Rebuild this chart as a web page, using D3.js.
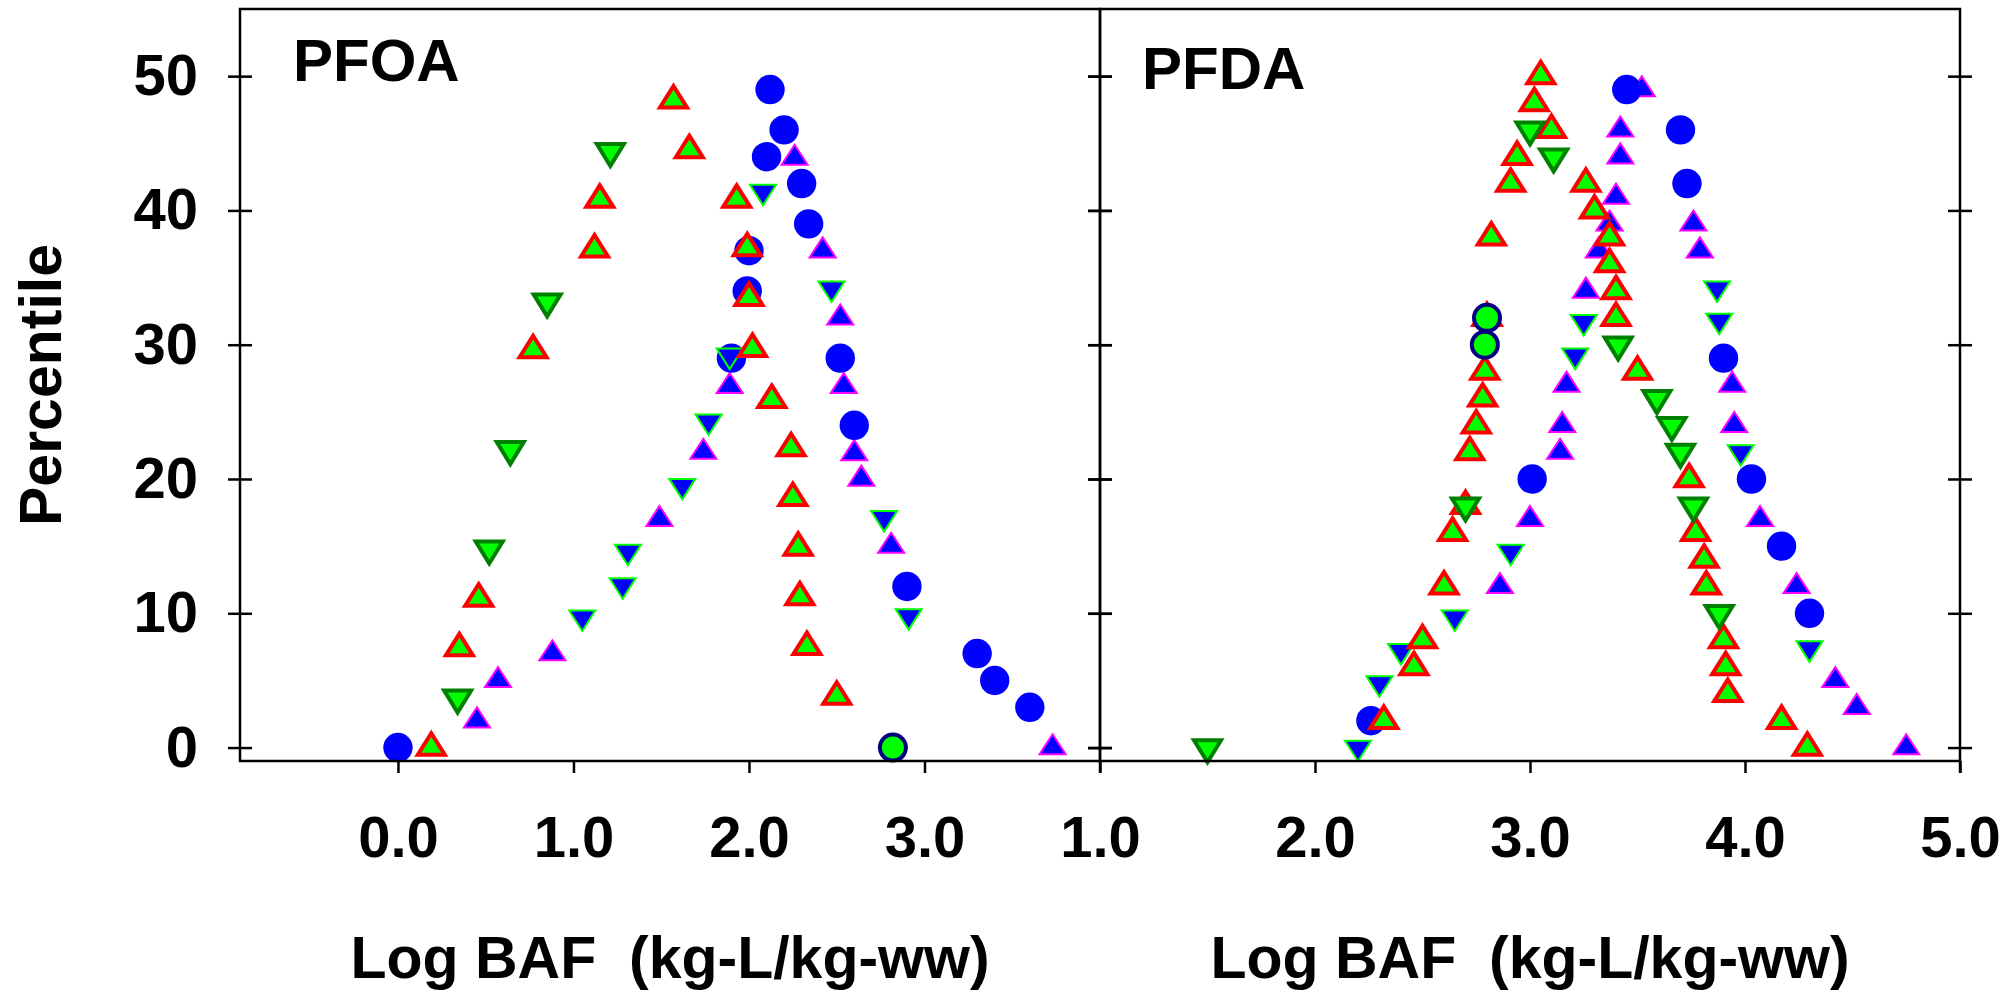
<!DOCTYPE html>
<html><head><meta charset="utf-8">
<script src="https://cdn.jsdelivr.net/npm/d3@7"></script>
<style>
body{margin:0;background:#fff;}
svg{display:block;}
text{font-family:"Liberation Sans",Arial,Helvetica,sans-serif;font-weight:bold;fill:#000;}
</style></head><body>
<svg id="chart" width="2015" height="992"></svg>
<script>
// ---------- data ----------
const yTicks = [0, 10, 20, 30, 40, 50];
const pfoaXTicks = [0, 1, 2, 3];
const pfdaXTicks = [1, 2, 3, 4, 5];
const panelTitles = ["PFOA", "PFDA"];
const xTitle = "Log BAF  (kg-L/kg-ww)";
const yTitle = "Percentile";

// PFOA [logBAF, percentile]
const pfoaBlueCircles = [[0.00,0],[1.90,29],[1.99,34],[2.00,37],[2.10,44],[2.12,49],[2.20,46],[2.30,42],[2.34,39],[2.52,29],[2.60,24],[2.90,12],[3.30,7],[3.40,5],[3.60,3]];
const pfoaRingCircles = [[2.82,0]];
const pfoaRedUp = [[0.19,0],[0.35,7.4],[0.46,11.1],[0.77,29.6],[1.12,37.1],[1.15,40.8],[1.57,48.2],[1.66,44.5],[1.93,40.8],[1.99,37.2],[2.00,33.5],[2.02,29.7],[2.13,25.9],[2.24,22.3],[2.25,18.6],[2.28,14.9],[2.29,11.2],[2.33,7.5],[2.50,3.8]];
const pfoaGreenDown = [[0.34,3.7],[0.52,14.8],[0.64,22.2],[0.85,33.2],[1.21,44.4]];
const pfoaMagentaUp = [[0.45,2.0],[0.57,5.0],[0.88,7.0],[1.49,17.0],[1.74,22.0],[1.89,26.9],[2.26,43.9],[2.42,37.0],[2.52,32.0],[2.54,26.9],[2.60,21.9],[2.64,20.0],[2.81,15.0],[3.73,0]];
const pfoaBlueDown = [[1.05,9.7],[1.28,12.1],[1.31,14.6],[1.62,19.5],[1.77,24.3],[1.89,29.2],[2.08,41.4],[2.47,34.2],[2.77,17.1],[2.91,9.8]];

// PFDA [logBAF, percentile]
const pfdaBlueCircles = [[2.26,2],[3.01,20],[3.45,49],[3.70,46],[3.73,42],[3.90,29],[4.03,20],[4.17,15],[4.30,10]];
const pfdaRingCircles = [[2.80,32],[2.79,30]];
const pfdaRedUp = [[2.32,2],[2.46,6],[2.50,8],[2.60,12],[2.64,16],[2.70,18],[2.72,22],[2.75,24],[2.78,26],[2.79,28],[2.80,32],[2.82,38],[2.91,42],[2.94,44],[3.02,48],[3.05,50],[3.10,46],[3.26,42],[3.30,40],[3.37,38],[3.37,36],[3.40,34],[3.40,32],[3.50,28],[3.74,20],[3.77,16],[3.81,14],[3.82,12],[3.90,8],[3.91,6],[3.92,4],[4.17,2],[4.29,0]];
const pfdaGreenDown = [[1.50,0],[2.70,18],[3.00,46],[3.11,44],[3.41,30],[3.59,26],[3.66,24],[3.70,22],[3.76,18],[3.88,10]];
const pfdaMagentaUp = [[2.86,12],[3.00,17],[3.14,22],[3.15,24],[3.17,27],[3.26,34],[3.32,37],[3.37,39],[3.40,41],[3.42,44],[3.42,46],[3.52,49],[3.76,39],[3.79,37],[3.94,27],[3.95,24],[4.07,17],[4.24,12],[4.42,5],[4.52,3],[4.75,0]];
const pfdaBlueDown = [[2.20,0],[2.30,4.8],[2.40,7.2],[2.65,9.7],[2.91,14.6],[3.21,29.2],[3.25,31.7],[3.87,34.2],[3.88,31.8],[3.98,22],[4.30,7.4]];

// ---------- styles ----------
function tri(a, h, up) {
  return up ? `M0,${-2*h/3}L${a},${h/3}L${-a},${h/3}Z`
            : `M0,${2*h/3}L${a},${-h/3}L${-a},${-h/3}Z`;
}
const styles = {
  magentaUp:  {shape: tri(13, 20, true),  fill: "#0000FF", stroke: "#FF00FF", sw: 2},
  blueCircle: {shape: "circle", r: 14.7,  fill: "#0000FF", stroke: "none", sw: 0},
  blueDown:   {shape: tri(13, 20.5, false), fill: "#0000FF", stroke: "#00FF00", sw: 2},
  redUp:      {shape: tri(13.5, 21.5, true), fill: "#00FF00", stroke: "#FF0000", sw: 4},
  greenDown:  {shape: tri(13.5, 22, false), fill: "#00FF00", stroke: "#008000", sw: 4},
  ringCircle: {shape: "circle", r: 13,    fill: "#00FF00", stroke: "#000080", sw: 4}
};
const drawOrder = ["magentaUp","blueCircle","blueDown","redUp","greenDown","ringCircle"];

const panels = [
  {title: panelTitles[0], domain: [-0.9, 4.0], range: [240, 1100], ticks: pfoaXTicks, titlePos: [293, 81],
   series: {magentaUp: pfoaMagentaUp, blueCircle: pfoaBlueCircles, blueDown: pfoaBlueDown, redUp: pfoaRedUp, greenDown: pfoaGreenDown, ringCircle: pfoaRingCircles}},
  {title: panelTitles[1], domain: [1, 5], range: [1100, 1960], ticks: pfdaXTicks, titlePos: [1142, 89],
   series: {magentaUp: pfdaMagentaUp, blueCircle: pfdaBlueCircles, blueDown: pfdaBlueDown, redUp: pfdaRedUp, greenDown: pfdaGreenDown, ringCircle: pfdaRingCircles}}
];

const svg = d3.select("#chart");
const y = d3.scaleLinear().domain([-1, 55]).range([761, 9]);
const fmt = d3.format(".1f");
const LW = 2.5;

panels.forEach((p, i) => {
  const x = d3.scaleLinear().domain(p.domain).range(p.range);
  const g = svg.append("g");

  // markers
  const mg = g.append("g");
  drawOrder.forEach(key => {
    const st = styles[key];
    const data = p.series[key];
    if (st.shape === "circle") {
      mg.selectAll(null).data(data).join("circle")
        .attr("cx", d => x(d[0])).attr("cy", d => y(d[1])).attr("r", st.r)
        .attr("fill", st.fill).attr("stroke", st.stroke).attr("stroke-width", st.sw);
    } else {
      mg.selectAll(null).data(data).join("path")
        .attr("d", st.shape)
        .attr("transform", d => `translate(${x(d[0])},${y(d[1])})`)
        .attr("fill", st.fill).attr("stroke", st.stroke).attr("stroke-width", st.sw)
        .attr("stroke-linejoin", "miter");
    }
  });

  // frame
  g.append("rect")
    .attr("x", p.range[0]).attr("y", y.range()[1])
    .attr("width", p.range[1] - p.range[0]).attr("height", y.range()[0] - y.range()[1])
    .attr("fill", "none").attr("stroke", "#000").attr("stroke-width", LW);

  // bottom axis
  const xAxis = g.append("g").attr("transform", `translate(0,${y.range()[0]})`)
    .call(d3.axisBottom(x).tickValues(p.ticks).tickSize(12).tickSizeOuter(0).tickPadding(43).tickFormat(fmt));
  if (i === 1) {
    // extra edge tick at right end
    xAxis.call(a => {});
  }
  xAxis.select(".domain").remove();
  xAxis.selectAll("line").attr("stroke-width", LW);
  xAxis.selectAll("text").attr("font-size", 58).attr("font-family", null).style("font-weight", "bold");

  // y-axis crossing ticks on both edges of the panel
  [p.range[0], p.range[1]].forEach((xp, k) => {
    const showLabels = (i === 0 && k === 0);
    const left = g.append("g").attr("transform", `translate(${xp},0)`)
      .call(d3.axisLeft(y).tickValues(yTicks).tickSize(12).tickSizeOuter(0).tickPadding(30)
        .tickFormat(showLabels ? d3.format("d") : () => ""));
    const right = g.append("g").attr("transform", `translate(${xp},0)`)
      .call(d3.axisRight(y).tickValues(yTicks).tickSize(12).tickSizeOuter(0).tickFormat(() => ""));
    [left, right].forEach(a => {
      a.select(".domain").remove();
      a.selectAll("line").attr("stroke-width", LW);
      a.selectAll("text").attr("font-size", 58).attr("font-family", null).style("font-weight", "bold");
    });
  });

  // edge tick at panel's right end (x-axis boundary)
  g.append("line")
    .attr("x1", p.range[1]).attr("x2", p.range[1])
    .attr("y1", y.range()[0]).attr("y2", y.range()[0] + 12)
    .attr("stroke", "#000").attr("stroke-width", LW);

  // panel title
  g.append("text").attr("x", p.titlePos[0]).attr("y", p.titlePos[1])
    .attr("font-size", 60).text(p.title);

  // x axis title
  g.append("text").attr("x", (p.range[0] + p.range[1]) / 2).attr("y", 978)
    .attr("text-anchor", "middle").attr("font-size", 59)
    .style("white-space", "pre").text(xTitle);
});

// y axis title
svg.append("text")
  .attr("transform", `translate(61,${(y.range()[0] + y.range()[1]) / 2}) rotate(-90)`)
  .attr("text-anchor", "middle").attr("font-size", 59).text(yTitle);
</script>
</body></html>
